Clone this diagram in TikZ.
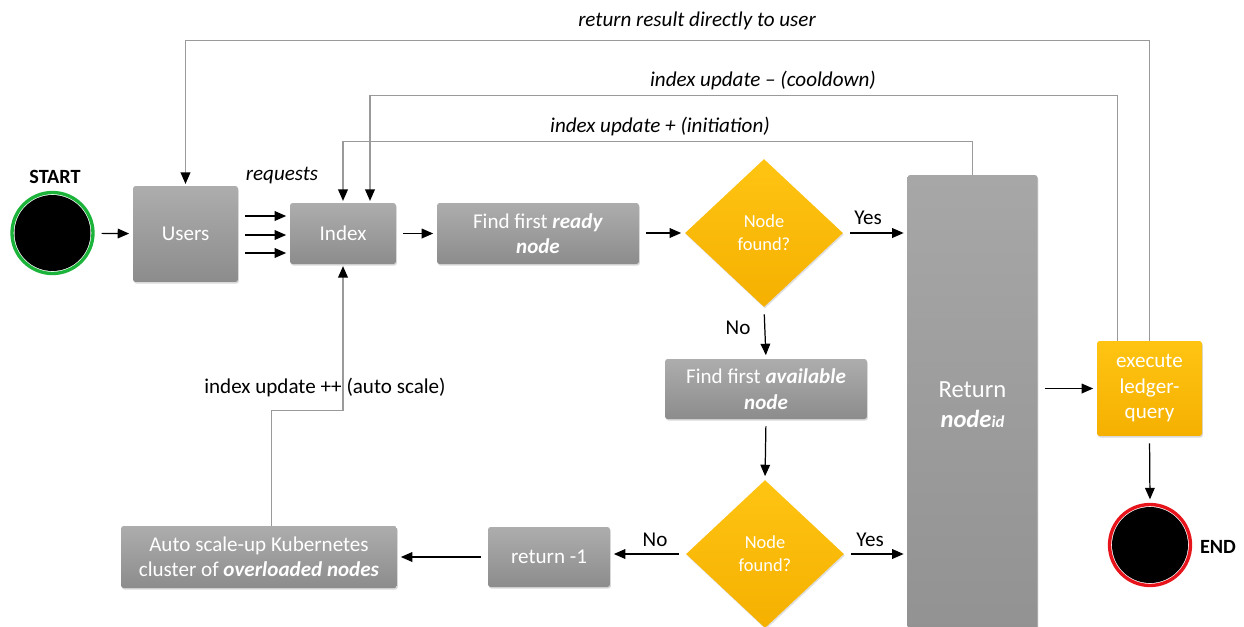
\documentclass[tikz,border=0pt]{standalone}
\usepackage{fontspec}
\setmainfont{Carlito}
\usetikzlibrary{arrows.meta,shapes.geometric,shadows}

\definecolor{boxtop}{HTML}{ADADAD}
\definecolor{boxbot}{HTML}{8C8C8C}
\definecolor{colA}{HTML}{A7A7A7}
\definecolor{colB}{HTML}{929292}
\definecolor{goldtop}{HTML}{FFC412}
\definecolor{goldbot}{HTML}{F5B000}
\definecolor{wire}{HTML}{9A9A9A}
\definecolor{startring}{HTML}{1CB33A}
\definecolor{endring}{HTML}{E8141B}

\begin{document}
\begin{tikzpicture}[x=0.02cm,y=-0.02cm,
  boxfont/.style={font=\fontsize{12}{14.5}\selectfont},
  graybox/.style={rectangle, rounded corners=1.5pt, top color=boxtop, bottom color=boxbot, draw=none,
    text=white, align=center, inner sep=2pt, boxfont,
    drop shadow={opacity=0.3, shadow xshift=0.5pt, shadow yshift=-0.9pt}},
  goldbox/.style={rectangle, rounded corners=1.5pt, top color=goldtop, bottom color=goldbot, draw=none,
    text=white, align=center, inner sep=2pt, boxfont,
    drop shadow={opacity=0.3, shadow xshift=0.5pt, shadow yshift=-0.9pt}},
  decision/.style={diamond, top color=goldtop, bottom color=goldbot, draw=none,
    text=white, align=center, inner sep=0pt, minimum width=3.16cm, minimum height=2.96cm,
    font=\fontsize{10.5}{13}\selectfont,
    drop shadow={opacity=0.25, shadow xshift=0.5pt, shadow yshift=-0.9pt}},
  terminal/.style={circle, fill=white, line width=1.9pt, minimum size=1.62cm, inner sep=0pt},
  arr/.style={draw=black, line width=0.7pt, shorten <=4pt, shorten >=2pt,
    -{Triangle[length=6.5pt,width=5.5pt]}},
  wireline/.style={draw=wire, line width=0.8pt, shorten >=1pt,
    -{Triangle[length=6.5pt,width=5.5pt,color=black]}},
  lab/.style={font=\fontsize{12}{14}\selectfont, inner sep=1pt},
  toplab/.style={font=\fontsize{12}{14}\selectfont\itshape, inner sep=1pt},
  badge/.style={font=\fontsize{11.5}{14}\selectfont\bfseries, inner sep=1pt}
]
\useasboundingbox (0,0) rectangle (1244,626);

% start and end terminals
\node[terminal, draw=startring] (start) at (52.5,233) {};
\fill[black] (start.center) circle[radius=0.76cm];
\node[badge] (starttxt) at (55,177) {START};

\node[terminal, draw=endring] (end) at (1150,545) {};
\fill[black] (end.center) circle[radius=0.76cm];
\node[badge] (endtxt) at (1218,547) {END};

% process boxes
\node[graybox, minimum width=2.1cm, minimum height=1.92cm] (users) at (185.5,234) {Users};
\node[graybox, minimum width=2.12cm, minimum height=1.22cm] (index) at (343,233.5) {Index};
\node[graybox, minimum width=4.04cm, minimum height=1.22cm] (ready) at (538,233.5)
  {Find first \textbf{\textit{ready}}\\\textbf{\textit{node}}};
\node[decision] (dia1) at (764,233) {Node\\found?};
\node[graybox, minimum width=4.04cm, minimum height=1.2cm] (avail) at (766,389)
  {Find first \textbf{\textit{available}}\\\textbf{\textit{node}}};
\node[decision] (dia2) at (765,554) {Node\\found?};
\node[graybox, minimum width=2.44cm, minimum height=1.2cm] (ret1) at (549,557) {return -1};
\node[graybox, minimum width=5.52cm, minimum height=1.24cm] (auto) at (259,557)
  {Auto scale-up Kubernetes\\cluster of \textbf{\textit{overloaded nodes}}};
\node[graybox, top color=colA, bottom color=colB, minimum width=2.6cm, minimum height=9.2cm,
  font=\fontsize{14}{17}\selectfont] (ret) at (972.5,405)
  {Return\\\textbf{\textit{node}}{\fontsize{9.5}{11}\selectfont\textbf{\textit{id}}}};
\node[goldbox, minimum width=2.1cm, minimum height=1.9cm] (exec) at (1149.5,388.5)
  {execute\\ledger-\\query};

% main flow
\draw[arr] (start) -- (users);
\draw[arr] ([yshift=0.36cm]users.east) -- ([yshift=0.36cm]users.east -| index.west);
\draw[arr] ([yshift=-0.02cm]users.east) -- ([yshift=-0.02cm]users.east -| index.west);
\draw[arr] ([yshift=-0.38cm]users.east) -- ([yshift=-0.38cm]users.east -| index.west);
\node[toplab] (reqtxt) at (282,176) {requests};
\draw[arr] (index) -- (ready);
\draw[arr] (ready.east |- dia1.west) -- (dia1.west);
\draw[arr] (dia1.east) -- (dia1.east -| ret.west);
\node[lab] (yes1) at (868,218) {Yes};
\draw[arr] (dia1.south) -- (avail.north);
\node[lab] (no1) at (738,328) {No};
\draw[arr] (avail.south) -- (dia2.north);
\draw[arr] (dia2.east) -- (dia2.east -| ret.west);
\node[lab] (yes2) at (870,540) {Yes};
\draw[arr] (dia2.west) -- (dia2.west -| ret1.east);
\node[lab] (no2) at (655,540) {No};
\draw[arr] (ret1.west) -- (ret1.west -| auto.east);
\draw[arr] (ret.east |- exec.west) -- (exec.west);
\draw[arr] (exec.south) -- (end.north);

% feedback loops
\draw[wireline] ([xshift=0.25cm]auto.north) -- ++(0,-115) -| (index.south);
\node[lab] (autotxt) at (325,387) {index update ++ (auto scale)};
\draw[wireline] (ret.north) -- ++(0,-33) -| (index.north);
\node[toplab] (inittxt) at (660,126) {index update + (initiation)};
\draw[wireline] ([xshift=-0.64cm]exec.north) -- ++(0,-245) -| ([xshift=0.54cm]index.north);
\node[toplab] (cooltxt) at (763,80) {index update – (cooldown)};
\draw[wireline] (exec.north) -- ++(0,-300) -| (users.north);
\node[toplab] (usertxt) at (697,21) {return result directly to user};
\end{tikzpicture}
\end{document}
